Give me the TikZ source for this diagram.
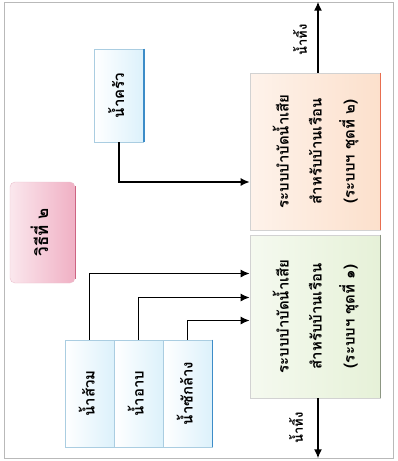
\documentclass[tikz,border=0pt]{standalone}
\usepackage{fontspec}
\usepackage{graphicx}
\newfontfamily\thai[Script=Thai]{Loma}
\usetikzlibrary{arrows.meta}
\usetikzlibrary{positioning}

% text turned a quarter, read from bottom to top
\newcommand{\vtext}[1]{\rotatebox{90}{\begin{tabular}{@{}c@{}}#1\end{tabular}}}

\definecolor{srcedge}{RGB}{60,140,200}
\definecolor{srcline}{RGB}{170,205,225}
\definecolor{srcfill}{RGB}{220,241,251}
\definecolor{sysoneedge}{RGB}{140,150,130}
\definecolor{sysonefill}{RGB}{230,241,216}
\definecolor{systwoedge}{RGB}{232,110,80}
\definecolor{systwofill}{RGB}{252,224,204}
\definecolor{methodfill}{RGB}{240,176,196}
\definecolor{methodedge}{RGB}{205,100,130}

\tikzset{
  flow/.style={-{Latex[length=9pt,width=8pt]}, line width=1.5pt},
  srcbox/.style={draw=srcline, line width=0.6pt, left color=white, right color=srcfill,
    minimum width=49pt, inner sep=0pt, font=\thai\bfseries\fontsize{15}{18}\selectfont},
  sysbox/.style={draw=gray!35, line width=0.6pt, minimum width=130pt, inner sep=0pt,
    font=\thai\bfseries\fontsize{15}{33}\selectfont},
  drain/.style={rotate=90, inner sep=0pt, font=\thai\bfseries\fontsize{13}{15}\selectfont},
}

\begin{document}
\begin{tikzpicture}[x=1pt, y=-1pt]
\useasboundingbox (0,0) rectangle (398,461);

% scan frame
\draw[gray!55, line width=0.8pt] (4,2) rectangle (393,458);

% method label
\node[draw=methodedge!40, rounded corners=5pt, left color=white!70!methodfill, right color=methodfill,
  minimum width=65pt, minimum height=101pt, inner sep=0pt,
  font=\thai\bfseries\fontsize{17}{20}\selectfont] (method) at (42.5,232.5) {\vtext{วิธีที่ ๒}};
\draw[methodedge, line width=1.4pt] ([yshift=-4pt]method.north east) -- ([yshift=4pt]method.south east);

% sources
\node[srcbox, minimum height=93pt] (kitchen) at (119,95.5) {\vtext{น้ำครัว}};
\node[srcbox, minimum height=107pt] (toilet) at (89.5,393.5) {\vtext{น้ำส้วม}};
\node[srcbox, minimum height=107pt] (bath) at (138.5,393.5) {\vtext{น้ำอาบ}};
\node[srcbox, minimum height=107pt] (laundry) at (187.5,393.5) {\vtext{น้ำซักล้าง}};
\draw[srcedge, line width=1.6pt] (kitchen.north east) -- (kitchen.south east);
\draw[srcedge, line width=1.6pt] (laundry.north east) -- (laundry.south east);

% treatment systems
\node[sysbox, minimum height=157pt, left color=white!60!systwofill, right color=systwofill] (sys2) at (315,151.5)
  {\vtext{ระบบบำบัดน้ำเสีย\\ สำหรับบ้านเรือน\\ (ระบบฯ ชุดที่ ๒)}};
\node[sysbox, minimum height=163pt, left color=white!60!sysonefill, right color=sysonefill] (sys1) at (315,316.5)
  {\vtext{ระบบบำบัดน้ำเสีย\\ สำหรับบ้านเรือน\\ (ระบบฯ ชุดที่ ๑)}};
\draw[systwoedge, line width=1.6pt] (sys2.north east) -- (sys2.south east);
\draw[sysoneedge, line width=1.6pt] (sys1.north east) -- (sys1.south east);

% inflows
\draw[flow] (kitchen.south) |- ([yshift=-30.5pt]sys2.west);
\draw[flow] (toilet.north) |- ([yshift=43pt]sys1.west);
\draw[flow] (bath.north) |- ([yshift=19pt]sys1.west);
\draw[flow] (laundry.north) |- ([yshift=-4pt]sys1.west);

% outflows
\coordinate (top2) at ([xshift=3pt,yshift=71pt]sys2.north);
\coordinate (bot1) at ([xshift=3pt,yshift=-60pt]sys1.south);
\draw[flow] ([xshift=3pt]sys2.north) -- (top2);
\draw[flow] ([xshift=3pt]sys1.south) -- (bot1);
\node[drain] (drain2) at (300,40) {น้ำทิ้ง};
\node[drain] (drain1) at (296,428) {น้ำทิ้ง};

\end{tikzpicture}
\end{document}
